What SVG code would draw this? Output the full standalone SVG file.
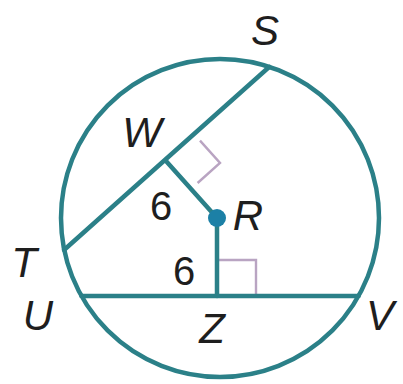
<svg xmlns="http://www.w3.org/2000/svg" width="403" height="384" viewBox="0 0 403 384">
<style>
.ln{fill:none;stroke:#2b8088;stroke-width:4.5;stroke-linecap:round}
.rt{fill:none;stroke:#b9a4c2;stroke-width:2.4}
.lb{font-family:"Liberation Sans",Arial,sans-serif;font-size:42px;font-style:italic;fill:#1e1e1e;text-anchor:middle}
.nm{font-family:"Liberation Sans",Arial,sans-serif;font-size:40px;fill:#1e1e1e;text-anchor:middle}
</style>
<rect width="403" height="384" fill="#ffffff"/>
<g id="marks">
<polyline class="rt" points="200,140.6 220,163 197.6,183"/>
<polyline class="rt" points="218,260 256,260 256,296"/>
</g>
<g id="connectors">
<circle class="ln" cx="220" cy="218" r="159"/>
<line class="ln" x1="64" y1="250" x2="269.4" y2="66.8"/>
<line class="ln" x1="81.4" y1="296" x2="358.6" y2="296"/>
<line class="ln" x1="166" y1="161" x2="217" y2="218"/>
<line class="ln" x1="217" y1="218" x2="217" y2="296"/>
</g>
<g id="R"><circle cx="217" cy="218" r="9" fill="#1c80a6"/><text class="lb" x="248" y="230">R</text></g>
<g id="S"><text class="lb" x="265" y="45">S</text></g>
<g id="W"><text class="lb" x="142" y="147">W</text></g>
<g id="T"><text class="lb" x="24" y="277">T</text></g>
<g id="U"><text class="lb" x="38" y="330">U</text></g>
<g id="Z"><text class="lb" x="212" y="343">Z</text></g>
<g id="V"><text class="lb" x="380" y="330">V</text></g>
<g id="labels"><text class="nm" x="161" y="220">6</text><text class="nm" x="184" y="285">6</text></g>
</svg>
